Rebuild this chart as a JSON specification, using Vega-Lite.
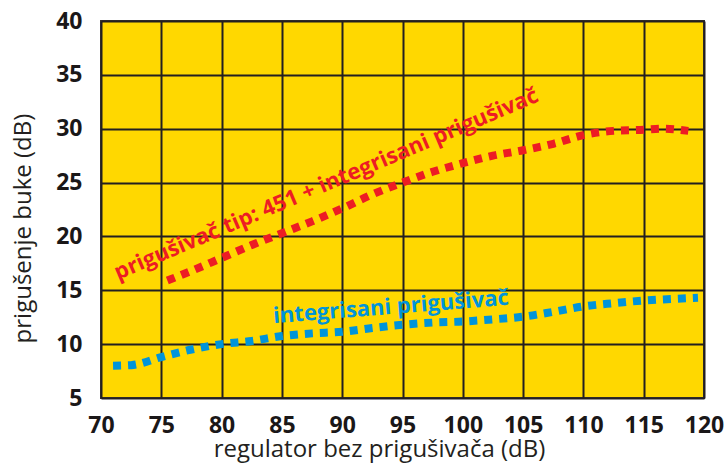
{
  "$schema": "https://vega.github.io/schema/vega-lite/v6.json",
  "width": 603,
  "height": 377,
  "autosize": {"type": "none"},
  "padding": {"left": 101, "top": 21, "right": 24, "bottom": 76},
  "background": "#ffffff",
  "config": {
    "view": {"fill": "#FFD800", "stroke": "#3a3630", "strokeWidth": 2},
    "font": "Open Sans",
    "axis": {
      "grid": true,
      "gridColor": "#231f20",
      "gridWidth": 2,
      "gridOpacity": 1,
      "domain": false,
      "ticks": false,
      "labelFlush": false,
      "labelOverlap": false,
      "labelFont": "Open Sans",
      "labelFontWeight": "bold",
      "labelFontSize": 23,
      "labelColor": "#1a1718",
      "titleFont": "Open Sans",
      "titleFontWeight": "normal",
      "titleColor": "#231f20"
    }
  },
  "datasets": {
    "curves": [
      {"series": "red", "x": 75.5, "y": 15.9},
      {"series": "red", "x": 77.5, "y": 16.8},
      {"series": "red", "x": 80, "y": 18.0},
      {"series": "red", "x": 82.5, "y": 19.2},
      {"series": "red", "x": 85, "y": 20.3},
      {"series": "red", "x": 87.5, "y": 21.4},
      {"series": "red", "x": 90, "y": 22.6},
      {"series": "red", "x": 92.5, "y": 23.9},
      {"series": "red", "x": 95, "y": 25.0},
      {"series": "red", "x": 97.5, "y": 26.0},
      {"series": "red", "x": 100, "y": 26.8},
      {"series": "red", "x": 102.5, "y": 27.5},
      {"series": "red", "x": 105, "y": 28.0},
      {"series": "red", "x": 107.5, "y": 28.6},
      {"series": "red", "x": 110, "y": 29.4},
      {"series": "red", "x": 112.5, "y": 29.8},
      {"series": "red", "x": 115, "y": 29.9},
      {"series": "red", "x": 116.5, "y": 30.0},
      {"series": "red", "x": 118.7, "y": 29.8},
      {"series": "blue", "x": 71, "y": 8.0},
      {"series": "blue", "x": 72.5, "y": 8.05},
      {"series": "blue", "x": 75, "y": 8.8},
      {"series": "blue", "x": 77.5, "y": 9.5},
      {"series": "blue", "x": 80, "y": 10.0},
      {"series": "blue", "x": 82.5, "y": 10.3},
      {"series": "blue", "x": 85, "y": 10.75},
      {"series": "blue", "x": 87.5, "y": 11.0},
      {"series": "blue", "x": 90, "y": 11.15},
      {"series": "blue", "x": 92.5, "y": 11.5},
      {"series": "blue", "x": 95, "y": 11.8},
      {"series": "blue", "x": 97.5, "y": 12.0},
      {"series": "blue", "x": 100, "y": 12.1},
      {"series": "blue", "x": 102.5, "y": 12.3},
      {"series": "blue", "x": 105, "y": 12.55},
      {"series": "blue", "x": 107.5, "y": 13.0},
      {"series": "blue", "x": 110, "y": 13.5},
      {"series": "blue", "x": 112.5, "y": 13.8},
      {"series": "blue", "x": 115, "y": 14.05},
      {"series": "blue", "x": 117.5, "y": 14.2},
      {"series": "blue", "x": 119.5, "y": 14.3}
    ],
    "labels": [
      {"series": "red", "x": 88.9, "y": 24.27, "label": "prigušivač tip: 451 + integrisani prigušivač"},
      {"series": "blue", "x": 94.09, "y": 12.8, "label": "integrisani prigušivač"}
    ]
  },
  "encoding": {
    "x": {
      "field": "x", "type": "quantitative",
      "scale": {"domain": [70, 120], "nice": false, "zero": false},
      "axis": {"values": [70, 75, 80, 85, 90, 95, 100, 105, 110, 115, 120], "labelPadding": 16, "title": "regulator bez prigušivača (dB)", "titleFontSize": 24, "titleX": 278, "titleY": 58, "titleBaseline": "alphabetic"}
    },
    "y": {
      "field": "y", "type": "quantitative",
      "scale": {"domain": [5, 40], "nice": false, "zero": false},
      "axis": {"values": [5, 10, 15, 20, 25, 30, 35, 40], "labelPadding": 19, "title": "prigušenje buke (dB)", "titleFontSize": 24, "titleX": -71, "titleY": 207, "titleBaseline": "alphabetic"}
    }
  },
  "layer": [
    {
      "data": {"name": "curves"},
      "transform": [{"filter": "datum.series === 'red'"}],
      "mark": {"type": "line", "interpolate": "monotone", "color": "#ED1C24", "strokeWidth": 8, "strokeDash": [8, 7], "strokeCap": "butt"}
    },
    {
      "data": {"name": "curves"},
      "transform": [{"filter": "datum.series === 'blue'"}],
      "mark": {"type": "line", "interpolate": "monotone", "color": "#0094DA", "strokeWidth": 8, "strokeDash": [8, 7], "strokeCap": "butt"}
    },
    {
      "data": {"name": "labels"},
      "transform": [{"filter": "datum.series === 'red'"}],
      "mark": {"type": "text", "angle": -23, "color": "#ED1C24", "font": "Open Sans", "fontWeight": "bold", "fontSize": 22, "align": "center", "baseline": "alphabetic"},
      "encoding": {"text": {"field": "label"}}
    },
    {
      "data": {"name": "labels"},
      "transform": [{"filter": "datum.series === 'blue'"}],
      "mark": {"type": "text", "angle": -4.5, "color": "#0094DA", "font": "Open Sans", "fontWeight": "bold", "fontSize": 22, "align": "center", "baseline": "alphabetic"},
      "encoding": {"text": {"field": "label"}}
    }
  ]
}
